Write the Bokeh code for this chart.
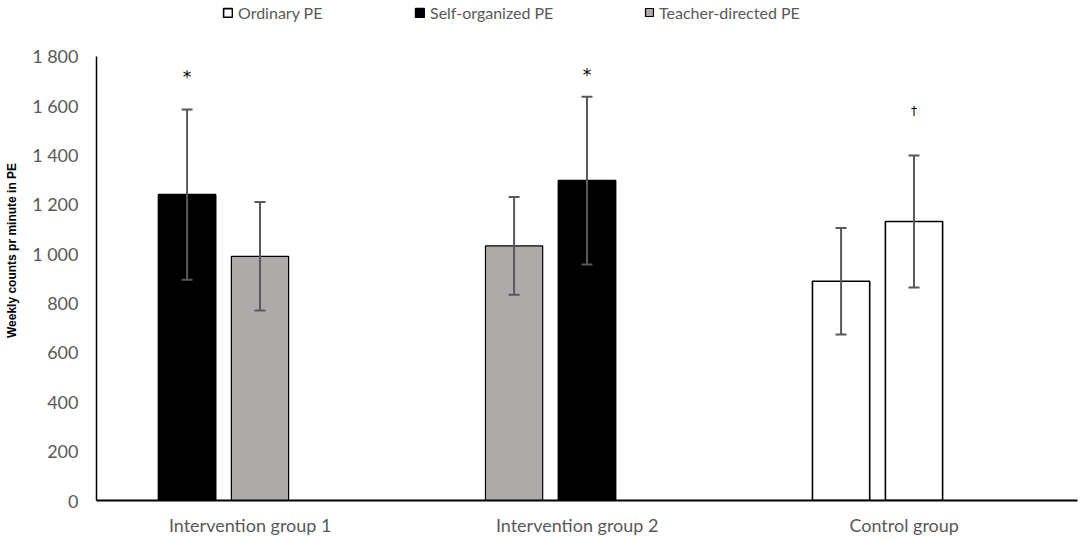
import pandas as pd
from bokeh.plotting import figure
from bokeh.models import (ColumnDataSource, Whisker, TeeHead, FixedTicker,
                          Legend, LegendItem, Range1d)
from bokeh.core.properties import value
from bokeh.embed import file_html
from bokeh.resources import INLINE

# ---------------- data ----------------
categories = ["Intervention group 1", "Intervention group 2", "Control group"]
pe_types = ["Ordinary PE", "Self-organized PE", "Teacher-directed PE"]

period1_type = ["Self-organized PE", "Teacher-directed PE", "Ordinary PE"]
period1_mean = [1240, 1032, 889]
period1_err = [345, 198, 216]

period2_type = ["Teacher-directed PE", "Self-organized PE", "Ordinary PE"]
period2_mean = [990, 1297, 1131]
period2_err = [220, 340, 268]

sig_marks = ["*", "*", "\u2020"]
sig_group = [0, 1, 2]
sig_period = [1, 2, 2]
sig_y = [1716, 1726, 1578]

y_ticks = [0, 200, 400, 600, 800, 1000, 1200, 1400, 1600, 1800]
y_tick_labels = [f"{v:,}".replace(",", " ") for v in y_ticks]

# ---------------- styles ----------------
type_fill = {"Ordinary PE": "#FFFFFF", "Self-organized PE": "#000000",
             "Teacher-directed PE": "#AEAAAA"}
period_offset = {1: -0.223, 2: 0.0}
BAR_W = 0.175
TXT = "#595959"
FONT = "Lato"
Y_MAX = 1800
Y_VIEW_TOP = 2027  # frame extends to the top of the canvas; axis bounded at 1800

rows = []
for g in range(len(categories)):
    rows.append(dict(group=categories[g], period=1, type=period1_type[g],
                     mean=period1_mean[g], err=period1_err[g], gi=g))
    rows.append(dict(group=categories[g], period=2, type=period2_type[g],
                     mean=period2_mean[g], err=period2_err[g], gi=g))
df = pd.DataFrame(rows)
df["x"] = df["gi"] + 0.5 + df["period"].map(period_offset)
df["upper"] = df["mean"] + df["err"]
df["lower"] = df["mean"] - df["err"]

p = figure(width=1084, height=539, x_range=Range1d(0, 3),
           y_range=Range1d(0, Y_VIEW_TOP),
           toolbar_location=None, output_backend="svg",
           min_border_left=96, min_border_right=7, min_border_top=0,
           min_border_bottom=39)
p.outline_line_color = None
p.xgrid.visible = False
p.ygrid.visible = False
p.background_fill_color = "white"

bar_r = {}
for t in pe_types:
    sub = df[df["type"] == t]
    bar_r[t] = p.vbar(x="x", top="mean", width=BAR_W, source=ColumnDataSource(sub),
                      fill_color=type_fill[t], line_color="#000000",
                      line_width=1.6 if t != "Teacher-directed PE" else 1.2)

err_src = ColumnDataSource(df)
p.add_layout(Whisker(base="x", upper="upper", lower="lower", source=err_src,
                     level="annotation",
                     line_color="#595959", line_width=2,
                     upper_head=TeeHead(size=11, line_color="#595959", line_width=2),
                     lower_head=TeeHead(size=11, line_color="#595959", line_width=2)))

sig_x = [g + 0.5 + period_offset[pr] for g, pr in zip(sig_group, sig_period)]
sig_size = ["17px" if m == "*" else "12px" for m in sig_marks]
p.text(x=sig_x, y=sig_y, text=sig_marks, text_font_size=sig_size,
       text_align="center", text_baseline="middle", text_color="#000000",
       text_font=value("DejaVu Sans"))

# x axis
xt = [i + 0.5 - 0.03 for i in range(len(categories))]
p.xaxis.ticker = FixedTicker(ticks=xt)
p.xaxis.major_label_overrides = {k: c for k, c in zip(xt, categories)}
p.xaxis.major_tick_line_color = None
p.xaxis.minor_tick_line_color = None
p.xaxis.major_tick_in = 0
p.xaxis.major_tick_out = 0
p.xaxis.axis_line_color = "#000000"
p.xaxis.axis_line_width = 2
p.xaxis.major_label_text_font = FONT
p.xaxis.major_label_text_font_size = "18px"
p.xaxis.major_label_text_color = TXT
p.xaxis.major_label_standoff = 13

# y axis
p.yaxis.ticker = FixedTicker(ticks=y_ticks)
p.yaxis.bounds = (0, Y_MAX)
p.yaxis.major_label_overrides = {k: s for k, s in zip(y_ticks, y_tick_labels)}
p.yaxis.major_tick_line_color = None
p.yaxis.minor_tick_line_color = None
p.yaxis.major_tick_in = 0
p.yaxis.major_tick_out = 0
p.yaxis.axis_line_color = "#000000"
p.yaxis.axis_line_width = 1.5
p.yaxis.major_label_text_font = FONT
p.yaxis.major_label_text_font_size = "18px"
p.yaxis.major_label_text_color = TXT
p.yaxis.major_label_standoff = 18
p.yaxis.axis_label = "Weekly counts pr minute in PE"
p.yaxis.axis_label_text_font = "Liberation Sans"
p.yaxis.axis_label_text_font_style = "bold"
p.yaxis.axis_label_text_font_size = "12px"
p.yaxis.axis_label_text_color = "#000000"
p.yaxis.axis_label_standoff = 10

# legend: one legend per PE type, using the bar renderers
legend_x = {"Ordinary PE": 126, "Self-organized PE": 318, "Teacher-directed PE": 548}
swatch_size = {"Ordinary PE": 11, "Self-organized PE": 11, "Teacher-directed PE": 10}
for t in pe_types:
    lg = Legend(items=[LegendItem(label=t, renderers=[bar_r[t]])],
                location=(legend_x[t], 478), orientation="horizontal",
                glyph_width=swatch_size[t], glyph_height=swatch_size[t],
                label_standoff=5, padding=0, margin=0, spacing=0,
                border_line_color=None, background_fill_alpha=0,
                label_text_font=FONT, label_text_font_size="16px",
                label_text_color=TXT, label_height=20)
    p.add_layout(lg, "center")

open("out.html", "w").write(file_html(p, INLINE))
